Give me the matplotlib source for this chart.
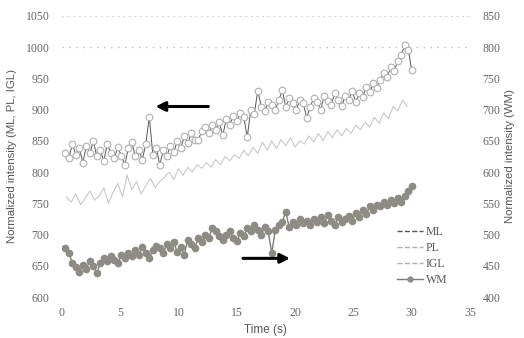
import numpy as np
import matplotlib
matplotlib.use('Agg')
import matplotlib.pyplot as plt

# time bases (s)
t_ml = np.arange(1, 101) * 0.3
t_pl = np.arange(1, 75) * 0.4
t_wm = np.arange(1, 101) * 0.3

ml = [830, 822, 845, 828, 838, 815, 842, 830, 850, 825,
      835, 818, 845, 830, 822, 840, 826, 812, 838, 848,
      825, 836, 820, 845, 888, 828, 838, 812, 835, 825,
      842, 832, 850, 838, 858, 846, 862, 852, 851, 866,
      872, 862, 875, 868, 880, 859, 885, 876, 890, 882,
      895, 888, 856, 900, 893, 930, 905, 898, 912, 908,
      900, 915, 931, 905, 918, 910, 900, 915, 910, 887,
      905, 918, 912, 900, 922, 914, 908, 926, 916, 906,
      922, 916, 930, 912, 926, 920, 936, 928, 942, 935,
      948, 958, 952, 968, 962, 978, 988, 1003, 996, 963]

pl = [760, 752, 765, 748, 758, 770, 755, 762, 775, 750,
      768, 782, 760, 795, 772, 785, 765, 778, 790, 775,
      785, 792, 800, 788, 805, 795, 808, 800, 812, 806,
      815, 808, 820, 812, 825, 818, 828, 822, 835, 826,
      840, 830, 848, 835, 850, 838, 852, 842, 855, 840,
      850, 845, 858, 848, 862, 850, 865, 855, 868, 858,
      870, 862, 875, 868, 880, 872, 888, 878, 895, 885,
      905, 898, 915, 905]

igl_level = 1000

wm = [478, 470, 455, 448, 440, 452, 445, 458, 450, 438,
      455, 462, 458, 465, 460, 455, 468, 462, 470, 465,
      475, 468, 480, 470, 462, 475, 482, 478, 470, 485,
      478, 488, 472, 480, 468, 492, 485, 478, 495, 488,
      500, 495, 510, 505, 498, 492, 500, 505, 495, 490,
      502, 498, 510, 505, 515, 508, 500, 512, 505, 470,
      508, 515, 520, 536, 512, 520, 515, 525, 518, 522,
      515, 525, 520, 528, 518, 532, 522, 515, 528, 520,
      525, 530, 522, 535, 528, 540, 533, 545, 540, 548,
      545, 552, 548, 555, 550, 558, 552, 562, 570, 578]

serif = 'Liberation Serif'
sans = 'Liberation Sans'
tick_c = '#666666'

fig = plt.figure(figsize=(5.24, 3.38), dpi=100)
ax = fig.add_axes([0.118, 0.121, 0.779, 0.832])
ax2 = ax.twinx()

ax.plot(t_ml, ml, '-', color='#555555', lw=0.7, marker='o', ms=4.8,
        mfc='white', mec='#b0b0b0', mew=0.8, zorder=3)
ax.plot(t_pl, pl, '-', color='#c8c8c8', lw=0.8, zorder=2)
ax.axhline(igl_level, color='#bdbdbd', ls=(0, (1, 4)), lw=1.0, zorder=1)
ax2.plot(t_wm, wm, '-', color='#7e7a74', lw=1.0, marker='o', ms=4.5,
         mfc='#8e8a84', mec='#8e8a84', zorder=3)

# direction arrows
ax.annotate('', xy=(7.8, 905), xytext=(12.8, 905),
            arrowprops=dict(arrowstyle='-|>', color='black', lw=2.2, mutation_scale=14))
ax2.annotate('', xy=(19.8, 462), xytext=(15.3, 462),
             arrowprops=dict(arrowstyle='-|>', color='black', lw=2.2, mutation_scale=14))

ax.set_xlim(0, 35)
ax.set_ylim(600, 1050)
ax2.set_ylim(400, 850)
ax.set_xticks(np.arange(0, 36, 5))
ax.set_yticks(np.arange(600, 1051, 50))
ax2.set_yticks(np.arange(400, 851, 50))

for a in (ax, ax2):
    for s in a.spines.values():
        s.set_visible(False)
    a.tick_params(length=0, colors=tick_c, labelsize=8.5)
    for lab in a.get_xticklabels() + a.get_yticklabels():
        lab.set_fontfamily(serif)
ax.spines['top'].set_visible(True)
ax.spines['top'].set_color('#d8d8d8')
ax.spines['top'].set_linestyle((0, (1, 4)))
ax.tick_params(axis='y', pad=9)
ax.tick_params(axis='x', pad=7)
ax2.tick_params(axis='y', pad=9)

ax.set_xlabel('Time (s)', family=sans, fontsize=8.5, color='#555555', labelpad=4)
ax.set_ylabel('Normalized intensity (ML, PL, IGL)', family=sans, fontsize=8.2,
              color='#555555', labelpad=6)
ax2.set_ylabel('Normalized intensity (WM)', family=sans, fontsize=8.2,
               color='#555555', labelpad=3)

h = [plt.Line2D([], [], color='#555555', ls='--', lw=1.0),
     plt.Line2D([], [], color='#b0b0b0', ls='--', lw=1.0),
     plt.Line2D([], [], color='#b0b0b0', ls='--', lw=1.0),
     plt.Line2D([], [], color='#7e7a74', lw=1.0, marker='o', ms=3.5,
                mfc='#8e8a84', mec='#8e8a84')]
leg = ax2.legend(h, ['ML', 'PL', 'IGL', 'WM'], loc='lower right',
                 bbox_to_anchor=(0.97, 0.0), frameon=False, handlelength=2.2,
                 handletextpad=0.2, labelspacing=0.35,
                 prop={'family': serif, 'size': 8.5})
for txt in leg.get_texts():
    txt.set_color('#555555')

fig.savefig('out.png', dpi=100, facecolor='white')
